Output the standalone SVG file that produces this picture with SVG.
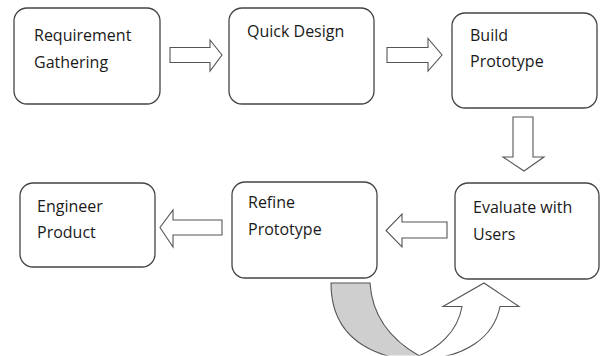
<svg xmlns="http://www.w3.org/2000/svg" width="600" height="356" viewBox="0 0 600 356">
<style>
.box{fill:#fff;stroke:#444;stroke-width:1.3}
.arr{fill:#fff;stroke:#555;stroke-width:1.1;stroke-linejoin:miter}
.lbl{font-family:"Open Sans","Noto Sans",sans-serif;font-size:16px;fill:#1a1a1a}
</style>
<defs><clipPath id="clip"><rect x="0" y="0" width="600" height="355.5"/></clipPath></defs>
<rect width="600" height="356" fill="#fff"/>
<g id="n1"><rect class="box" x="14" y="8" width="146" height="96" rx="13"/><text class="lbl" x="34" y="41">Requirement</text><text class="lbl" x="34" y="68">Gathering</text></g>
<g id="n2"><rect class="box" x="229" y="8" width="145" height="96" rx="13"/><text class="lbl" x="247" y="37">Quick Design</text></g>
<g id="n3"><rect class="box" x="452" y="13" width="145" height="95" rx="13"/><text class="lbl" x="470" y="41">Build</text><text class="lbl" x="470" y="67">Prototype</text></g>
<g id="n4"><rect class="box" x="455" y="183" width="144" height="96" rx="13"/><text class="lbl" x="473" y="213">Evaluate with</text><text class="lbl" x="473" y="240">Users</text></g>
<g id="n5"><rect class="box" x="232" y="182" width="145" height="96" rx="13"/><text class="lbl" x="248" y="208">Refine</text><text class="lbl" x="248" y="235">Prototype</text></g>
<g id="n6"><rect class="box" x="20" y="183" width="135" height="84" rx="13"/><text class="lbl" x="37" y="212">Engineer</text><text class="lbl" x="37" y="238">Product</text></g>
<g id="connectors">
<path class="arr" d="M170,47.5 H210 V40 L222,55 L210,71 V62.5 H170 Z"/>
<path class="arr" d="M387,47.5 H428 V38.5 L442,55 L428,71 V62.5 H387 Z"/>
<path class="arr" d="M513,117 H533 V157 H544 L524,171 L503,157 H513 Z"/>
<path class="arr" d="M447,222 H402 V214 L386,230.5 L402,247 V238 H447 Z"/>
<path class="arr" d="M222,220 H173 V210 L160,227.5 L173,247 V235 H222 Z"/>
<g clip-path="url(#clip)">
<path class="arr" style="fill:#cfcfcf" d="M331,283 H370 C372,315 390,341 425,359 L400,359 C355,350 331,325 331,283 Z"/>
<path class="arr" d="M462,306.5 H443 L484,283 L519,306.5 H500 C494,337 465,358 422,359 L410,359 C440,350 458,330 462,306.5 Z"/>
</g>
</g>
</svg>
